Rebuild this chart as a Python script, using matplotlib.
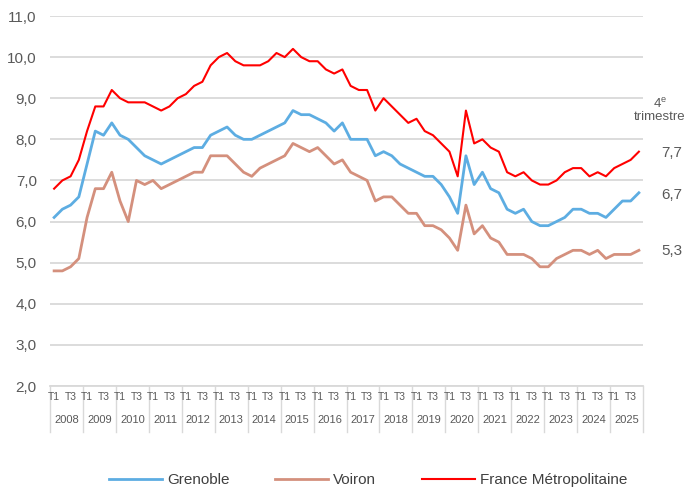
import matplotlib.pyplot as plt
from matplotlib.transforms import blended_transform_factory
from matplotlib.lines import Line2D

plt.rcParams['font.family'] = ['Liberation Sans', 'DejaVu Sans']

years = [str(y) for y in range(2008, 2026)]
quarter_labels = ['T1', '', 'T3', '']

grenoble = [6.1, 6.3, 6.4, 6.6, 7.4, 8.2, 8.1, 8.4,
            8.1, 8.0, 7.8, 7.6, 7.5, 7.4, 7.5, 7.6,
            7.7, 7.8, 7.8, 8.1, 8.2, 8.3, 8.1, 8.0,
            8.0, 8.1, 8.2, 8.3, 8.4, 8.7, 8.6, 8.6,
            8.5, 8.4, 8.2, 8.4, 8.0, 8.0, 8.0, 7.6,
            7.7, 7.6, 7.4, 7.3, 7.2, 7.1, 7.1, 6.9,
            6.6, 6.2, 7.6, 6.9, 7.2, 6.8, 6.7, 6.3,
            6.2, 6.3, 6.0, 5.9, 5.9, 6.0, 6.1, 6.3,
            6.3, 6.2, 6.2, 6.1, 6.3, 6.5, 6.5, 6.7]
voiron = [4.8, 4.8, 4.9, 5.1, 6.1, 6.8, 6.8, 7.2,
          6.5, 6.0, 7.0, 6.9, 7.0, 6.8, 6.9, 7.0,
          7.1, 7.2, 7.2, 7.6, 7.6, 7.6, 7.4, 7.2,
          7.1, 7.3, 7.4, 7.5, 7.6, 7.9, 7.8, 7.7,
          7.8, 7.6, 7.4, 7.5, 7.2, 7.1, 7.0, 6.5,
          6.6, 6.6, 6.4, 6.2, 6.2, 5.9, 5.9, 5.8,
          5.6, 5.3, 6.4, 5.7, 5.9, 5.6, 5.5, 5.2,
          5.2, 5.2, 5.1, 4.9, 4.9, 5.1, 5.2, 5.3,
          5.3, 5.2, 5.3, 5.1, 5.2, 5.2, 5.2, 5.3]
france = [6.8, 7.0, 7.1, 7.5, 8.2, 8.8, 8.8, 9.2,
          9.0, 8.9, 8.9, 8.9, 8.8, 8.7, 8.8, 9.0,
          9.1, 9.3, 9.4, 9.8, 10.0, 10.1, 9.9, 9.8,
          9.8, 9.8, 9.9, 10.1, 10.0, 10.2, 10.0, 9.9,
          9.9, 9.7, 9.6, 9.7, 9.3, 9.2, 9.2, 8.7,
          9.0, 8.8, 8.6, 8.4, 8.5, 8.2, 8.1, 7.9,
          7.7, 7.1, 8.7, 7.9, 8.0, 7.8, 7.7, 7.2,
          7.1, 7.2, 7.0, 6.9, 6.9, 7.0, 7.2, 7.3,
          7.3, 7.1, 7.2, 7.1, 7.3, 7.4, 7.5, 7.7]
last_values = ['7,7', '6,7', '5,3']

c_gre = '#5DADE2'
c_voi = '#D4907D'
c_fra = '#FF0000'
txt = '#595959'

fig = plt.figure(figsize=(6.88, 4.92), dpi=100)
ax = fig.add_axes([50 / 688, 106 / 492, 593 / 688, 370 / 492])

x = list(range(len(grenoble)))
ax.plot(x, grenoble, color=c_gre, lw=2.0, label='Grenoble')
ax.plot(x, voiron, color=c_voi, lw=2.0, label='Voiron')
ax.plot(x, france, color=c_fra, lw=1.5, label='France Métropolitaine')

ax.set_xlim(-0.5, len(x) - 0.5)
ax.set_ylim(2, 11)
ax.set_yticks(range(2, 12))
ax.set_yticklabels([f'{v},0' for v in range(2, 12)], fontsize=11, color=txt)
ax.yaxis.grid(True, color='#D9D9D9', lw=1.3)
ax.set_axisbelow(True)
for s in ['top', 'right', 'left']:
    ax.spines[s].set_visible(False)
ax.spines['bottom'].set_color('#D9D9D9')
ax.spines['bottom'].set_linewidth(1.3)
ax.tick_params(axis='y', length=0, pad=9.5)
ax.set_xticks([])

# two-level category axis
tr = blended_transform_factory(ax.transData, ax.transAxes)
for k in range(len(years) + 1):
    xb = -0.5 + 4 * k
    ax.add_line(Line2D([xb, xb], [0, -0.125], transform=tr, color='#D9D9D9',
                       lw=1.0, clip_on=False))
for k, yr in enumerate(years):
    for q, lab in enumerate(quarter_labels):
        if lab:
            ax.text(4 * k + q, -0.03, lab, transform=tr, ha='center', va='center',
                    fontsize=7.5, color=txt)
    ax.text(4 * k + 1.5, -0.092, yr, transform=tr, ha='center', va='center',
            fontsize=8, color=txt)

# end-of-series annotations
fig.text(660 / 688, 1 - 104 / 492, r'4$^{\mathregular{e}}$', ha='center', va='center',
         fontsize=9.5, color=txt)
fig.text(660 / 688, 1 - 117 / 492, 'trimestre', ha='center', va='center',
         fontsize=9.5, color=txt)
for val, yp in zip(last_values, [153, 195, 251]):
    fig.text(672 / 688, 1 - yp / 492, val, ha='center', va='center',
             fontsize=11, color=txt)

fig.legend(loc='center left', bbox_to_anchor=(109 / 688, 1 - 480 / 492), ncol=3,
           frameon=False, fontsize=11, handlelength=3.46, handletextpad=0.33,
           columnspacing=3.0, borderpad=0, borderaxespad=0, labelcolor='#404040')

fig.savefig('out.png', dpi=100)
